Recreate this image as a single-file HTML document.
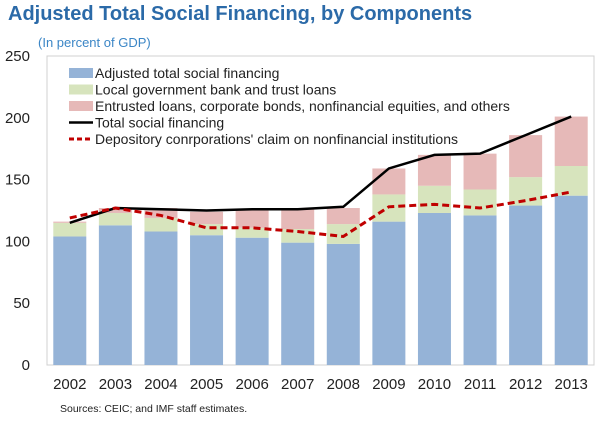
<!DOCTYPE html>
<html><head><meta charset="utf-8"><style>
body{margin:0;background:#fff;font-family:"Liberation Sans",sans-serif;}
#wrap{position:relative;width:600px;height:421px;overflow:hidden;}
</style></head><body>
<div id="wrap">
<svg id="svg" width="600" height="421" xmlns="http://www.w3.org/2000/svg">
<text x="8" y="20" font-size="20" font-weight="bold" fill="#2b6aa8">Adjusted Total Social Financing, by Components</text>
<text x="38" y="47" font-size="13" fill="#3b86c6">(In percent of GDP)</text>
<rect x="47" y="56" width="547" height="309" fill="none" stroke="#d0d0d0"/>
<g id="bars"></g><g id="lines"></g><g id="axes"></g>
<g id="legend"></g>
<text x="60" y="412" font-size="10.5" fill="#222">Sources: CEIC; and IMF staff estimates.</text>
</svg></div>
<script>
const categories=["2002","2003","2004","2005","2006","2007","2008","2009","2010","2011","2012","2013"];
const adjusted=[104,113,108,105,103,99,98,116,123,121,129,137];
const localGov=[11,10,11,9,8,11,16,22,22,21,23,24];
const entrusted=[1,4,8,10,15,16,13,21,25,29,34,40];
const totalSF=[115,127,126,125,126,126,128,159,170,171,186,201];
const depository=[119,127,121,111,111,108,104,128,130,127,133,140];
const yTicks=[0,50,100,150,200,250];
const NS="http://www.w3.org/2000/svg";
const L=47,R=594,T=56,B=365,yMax=250;
const y=v=>B-(v/yMax)*(B-T);
const step=(R-L)/categories.length;
const xc=i=>L+step*(i+0.5);
const bw=33;
function mk(tag,attrs,parent){const e=document.createElementNS(NS,tag);for(const k in attrs)e.setAttribute(k,attrs[k]);parent.appendChild(e);return e;}
const bars=document.getElementById('bars'),lines=document.getElementById('lines'),axes=document.getElementById('axes'),leg=document.getElementById('legend');
const cols=["#95b3d7","#d7e4bd","#e6b9b8"];
categories.forEach((c,i)=>{
  const segs=[adjusted[i],localGov[i],entrusted[i]];let base=0;
  segs.forEach((v,k)=>{
    const r=mk('rect',{x:xc(i)-bw/2,y:y(base+v),width:bw,height:y(base)-y(base+v),fill:cols[k]},bars);
    
    
    base+=v;
  });
  const t=mk('text',{x:xc(i),y:389,'font-size':15,'text-anchor':'middle',fill:'#222'},axes);t.textContent=c;
  
  
});
yTicks.forEach(v=>{
  const t=mk('text',{x:30,y:y(v)+5,'font-size':15,'text-anchor':'end',fill:'#222'},axes);t.textContent=v;
  
  
});
const p1=mk('polyline',{points:totalSF.map((v,i)=>xc(i)+','+y(v)).join(' '),fill:'none',stroke:'#000','stroke-width':2.5},lines);


const p2=mk('polyline',{points:depository.map((v,i)=>xc(i)+','+y(v)).join(' '),fill:'none',stroke:'#c00000','stroke-width':3,'stroke-dasharray':'7,4'},lines);


const items=[["rect","#95b3d7","Adjusted total social financing"],["rect","#d7e4bd","Local government  bank and trust loans"],["rect","#e6b9b8","Entrusted loans, corporate  bonds, nonfinancial  equities, and others"],["line","#000","Total social financing"],["dash","#c00000","Depository conrporations'  claim on nonfinancial institutions"]];
items.forEach((it,k)=>{
  const yy=73+k*16.5;
  if(it[0]=="rect")mk('rect',{x:69,y:yy-5,width:24,height:10,fill:it[1]},leg);
  else mk('line',{x1:69,x2:93,y1:yy,y2:yy,stroke:it[1],'stroke-width':it[0]=="dash"?3:2.5,'stroke-dasharray':it[0]=="dash"?'5,3':'none'},leg);
  const t=mk('text',{x:95,y:yy+5,'font-size':14,fill:'#222'},leg);t.textContent=it[2];
  
  
});
</script>
</body></html>
